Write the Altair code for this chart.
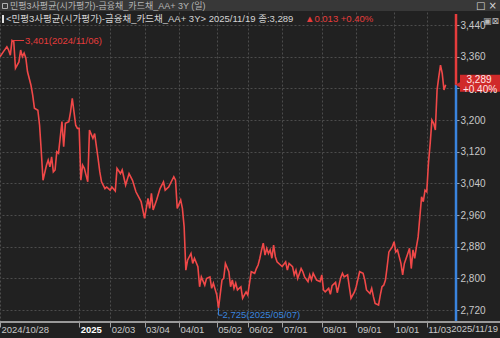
import altair as alt
import pandas as pd

series_name = "민평3사평균(시가평가)-금융채_카드채_AA+ 3Y"
last_date = "2025/11/19"
max_date = "2024/11/06"
min_date = "2025/05/07"

# trading-day index and value (3,289 style units)
day = [0, 2, 4, 5, 6, 7, 8, 9, 11, 12, 13, 14, 15, 16, 18, 19, 20, 22, 23, 24,
       25, 27, 28, 29, 30, 31, 32, 33, 34, 36, 37, 38, 40, 41, 42, 44, 45, 46, 47, 48,
       49, 51, 52, 54, 55, 57, 58, 59, 61, 62, 64, 65, 67, 68, 70, 71, 73, 75, 77, 79,
       82, 84, 86, 87, 88, 89, 91, 93, 95, 96, 98, 101, 102, 103, 105, 106, 107, 108, 109, 111,
       112, 113, 115, 116, 117, 119, 120, 122, 123, 124, 126, 127, 129, 130, 131, 133, 134, 135, 136, 137,
       138, 140, 141, 143, 144, 146, 148, 149, 150, 151, 152, 153, 154, 155, 156, 157, 158, 159, 160, 161,
       163, 164, 166, 167, 168, 170, 171, 172, 173, 175, 176, 177, 179, 180, 181, 182, 184, 186, 187, 188,
       189, 191, 192, 193, 195, 196, 198, 199, 200, 202, 203, 204, 206, 207, 209, 211, 212, 213, 215, 216,
       217, 218, 220, 221, 222, 223, 224, 225, 226, 228, 229, 230, 231, 233, 234, 235, 237, 238, 239, 240,
       241, 242, 243, 244, 245, 246, 247, 248, 249, 250, 251, 252, 253, 254, 255, 256, 257, 258, 259]
val = [3360, 3373, 3385, 3377, 3364, 3401, 3398, 3331, 3347, 3377, 3360, 3369, 3357, 3322, 3288, 3263, 3230, 3225, 3187, 3120,
       3048, 3086, 3099, 3082, 3107, 3069, 3074, 3120, 3116, 3196, 3133, 3192, 3196, 3221, 3255, 3187, 3179, 3179, 3048, 3086,
       3078, 3044, 3175, 3154, 3166, 3103, 3069, 3044, 3027, 3031, 3023, 3031, 3021, 3078, 3065, 3074, 3036, 3065, 3048, 3019,
       2994, 2952, 3002, 2977, 3015, 2973, 2998, 3027, 3044, 3023, 3031, 3057, 3048, 2977, 2998, 2977, 2931, 2821, 2846, 2863,
       2838, 2851, 2830, 2779, 2804, 2783, 2800, 2804, 2775, 2788, 2758, 2725, 2796, 2800, 2838, 2817, 2779, 2796, 2775, 2788,
       2771, 2779, 2750, 2766, 2758, 2817, 2813, 2825, 2834, 2851, 2872, 2889, 2859, 2876, 2863, 2872, 2851, 2884, 2855, 2842,
       2834, 2830, 2842, 2821, 2838, 2830, 2809, 2821, 2800, 2825, 2817, 2804, 2792, 2809, 2796, 2813, 2796, 2792, 2809, 2771,
       2766, 2775, 2760, 2782, 2790, 2764, 2802, 2813, 2804, 2809, 2779, 2750, 2766, 2779, 2817, 2813, 2796, 2771, 2762, 2775,
       2754, 2737, 2733, 2758, 2779, 2783, 2796, 2830, 2867, 2880, 2893, 2867, 2872, 2838, 2809, 2838, 2863, 2876, 2825, 2872,
       2851, 2880, 2905, 2956, 3006, 2994, 3023, 3019, 3091, 3141, 3200, 3192, 3175, 3276, 3309, 3339, 3318, 3276, 3289]

tick_day = [0, 46, 64, 84, 104, 126, 144, 164, 187, 207, 229, 248]
tick_label = ["2024/10/28", "2025", "02/03", "03/04", "04/01", "05/02", "06/02",
              "07/01", "08/01", "09/01", "10/01", "11/03"]
y_ticks = [2720, 2800, 2880, 2960, 3040, 3120, 3200, 3280, 3360, 3440]

df = pd.DataFrame({"day": day, "val": val})
cur, prev = val[-1], val[-2]
chg = (cur - prev) / 1000
pct = (cur - prev) / prev * 100
imax = val.index(max(val))
imin = val.index(min(val))

FONT = "Liberation Sans, Noto Sans CJK KR, DejaVu Sans"
BG = "#212121"
LINE = "#f04848"
UP = "#e53c3c"
DOWN = "#3a84de"
GRID = "#4c4c4c"
TXT = "#c8c8c8"
W, H = 456, 310

label_expr = "''"
for d, l in reversed(list(zip(tick_day, tick_label))):
    label_expr = f"datum.value == {d} ? '{l}' : ({label_expr})"
# the current-price tag covers the tick label nearest to it
y_label_expr = f"abs(datum.value - {cur}) < 30 ? '' : format(datum.value, ',d')"

xs = alt.Scale(domain=[0, 265], nice=False, zero=False)
ys = alt.Scale(domain=[2690, 3473], nice=False, zero=False)

X_AX = alt.Axis(
    values=tick_day, labelExpr=label_expr, title=None, grid=True,
    gridDash=[2, 2], gridColor=GRID, domain=False, tickColor="#a0a0a0",
    tickSize=5, labelAlign="left", labelOffset=1, labelFlush=False,
    labelPadding=-3, labelOverlap=False, labelFont=FONT, labelFontSize=9.5,
    labelColor={"expr": f"datum.value == {tick_day[1]} ? '#ffffff' : '{TXT}'"},
    labelFontWeight={"expr": f"datum.value == {tick_day[1]} ? 'bold' : 'normal'"})
Y_AX = alt.Axis(
    orient="right", values=y_ticks, labelExpr=y_label_expr, title=None, grid=True,
    gridDash=[2, 2], gridColor=GRID, domain=False, tickColor="#a0a0a0",
    tickSize=3, labelPadding=1, labelFont=FONT, labelFontSize=10,
    labelColor=TXT, labelFlush=False, labelOverlap=False, labelSeparation=0)

XD = alt.X("day:Q", scale=xs, axis=X_AX)
YD = alt.Y("val:Q", scale=ys, axis=Y_AX)
YC = alt.YDatum(cur, scale=ys, axis=Y_AX)

line = alt.Chart(df).mark_line(color=LINE, strokeWidth=1.6).encode(x=XD, y=YD)

one = pd.DataFrame({"k": [0]})

axis_up = alt.Chart(one).mark_rule(color=UP, strokeWidth=2.5).encode(
    x=alt.value(W), y=YC, y2=alt.value(2))
axis_dn = alt.Chart(one).mark_rule(color=DOWN, strokeWidth=2.5).encode(
    x=alt.value(W), y=YC, y2=alt.value(H))
x_line = alt.Chart(one).mark_rule(color="#9a9a9a", strokeWidth=2).encode(
    x=alt.value(0), x2=alt.value(500), y=alt.value(H))
last_lbl = alt.Chart(one).mark_text(align="right", baseline="top", font=FONT,
                                    fontSize=9.5, color=TXT).encode(
    x=alt.value(498), y=alt.value(H + 2), text=alt.value(last_date))

mx = pd.DataFrame({"day": [day[imax]], "val": [val[imax]],
                   "label": [f"{val[imax]:,}({max_date})"]})
mn = pd.DataFrame({"day": [day[imin]], "val": [val[imin]],
                   "label": [f"{val[imin]:,}({min_date})"]})
max_rule = alt.Chart(mx).mark_rule(color=UP, strokeWidth=1, x2Offset=12).encode(
    x=XD, x2="day:Q", y=YD)
max_text = alt.Chart(mx).mark_text(color=UP, align="left", baseline="middle", dx=13,
                                   font=FONT, fontSize=9.5).encode(
    x=XD, y=YD, text="label:N")
min_v = alt.Chart(mn).mark_rule(color=DOWN, strokeWidth=1, y2Offset=7).encode(
    x=XD, y=YD, y2="val:Q")
min_h = alt.Chart(mn).mark_rule(color=DOWN, strokeWidth=1, x2Offset=4, yOffset=7).encode(
    x=XD, x2="day:Q", y=YD)
min_text = alt.Chart(mn).mark_text(color=DOWN, align="left", baseline="middle", dx=4, dy=7,
                                   font=FONT, fontSize=9.5).encode(
    x=XD, y=YD, text="label:N")

# header
hdr_bg = alt.Chart(one).mark_rect(color="#383838").encode(
    x=alt.value(0), x2=alt.value(500), y=alt.value(-12), y2=alt.value(-1))
hdr_sq = alt.Chart(one).mark_rect(fill="#383838", stroke="#b0b0b0", strokeWidth=1).encode(
    x=alt.value(2.5), x2=alt.value(7.5), y=alt.value(-8.5), y2=alt.value(-3.5))
hdr1 = alt.Chart(one).mark_text(align="left", baseline="middle", font=FONT, fontSize=9,
                                color="#b4b4b4").encode(
    x=alt.value(10), y=alt.value(-6), text=alt.value(f"{series_name} (일)"))
icons = alt.Chart(one).mark_text(align="right", baseline="middle", font="DejaVu Sans",
                                 fontSize=10, color="#d8d8d8").encode(
    x=alt.value(497), y=alt.value(-6), text=alt.value("□  ×"))
hdr_bar = alt.Chart(one).mark_rect(color="#e0e0e0").encode(
    x=alt.value(2), x2=alt.value(4), y=alt.value(3), y2=alt.value(11))
hdr2 = alt.Chart(one).mark_text(align="left", baseline="middle", font=FONT, fontSize=9.5,
                                color="#d4d4d4").encode(
    x=alt.value(6), y=alt.value(7),
    text=alt.value(f"<{series_name}> {last_date} 종:{cur:,}"))
hdr2r = alt.Chart(one).mark_text(align="left", baseline="middle", font=FONT, fontSize=9.5,
                                 color=UP).encode(
    x=alt.value(305), y=alt.value(7),
    text=alt.value(f"▲{chg:.3f} +{pct:.2f}%"))
mini = alt.Chart(one).mark_text(align="right", baseline="middle", font="DejaVu Sans",
                                fontSize=9, color="#bbbbbb").encode(
    x=alt.value(499), y=alt.value(9), text=alt.value("▣⊠"))

# current price box
box = alt.Chart(one).mark_rect(color="#d02a2a", yOffset=-10, y2Offset=7).encode(
    x=alt.value(460), x2=alt.value(500), y=YC, y2=alt.Y2Datum(cur))
tip = alt.Chart(one).mark_point(shape="triangle-left", filled=True, size=70,
                                color="#d02a2a", opacity=1).encode(
    x=alt.value(459), y=YC)
box_t1 = alt.Chart(one).mark_text(font=FONT, fontSize=10, color="#ffe6e6", dy=-5).encode(
    x=alt.value(479), y=YC, text=alt.value(f"{cur:,}"))
box_t2 = alt.Chart(one).mark_text(font=FONT, fontSize=10, color="#ffe6e6", dy=5).encode(
    x=alt.value(480), y=YC, text=alt.value(f"+{pct:.2f}%"))

chart = alt.layer(
    line, axis_up, axis_dn, x_line, last_lbl,
    max_rule, max_text, min_v, min_h, min_text,
    hdr_bg, hdr_sq, hdr1, icons, hdr_bar, hdr2, hdr2r, mini,
    box, tip, box_t1, box_t2,
).properties(
    width=W, height=H, background=BG,
    padding={"left": 0, "top": 12, "right": 44, "bottom": 16},
    autosize=alt.AutoSizeParams(type="none"),
).configure_view(stroke=None, fill=BG).configure_axisY(labelOverlap=False)

chart.save("out.html", embed_options={"renderer": "svg", "actions": False})
